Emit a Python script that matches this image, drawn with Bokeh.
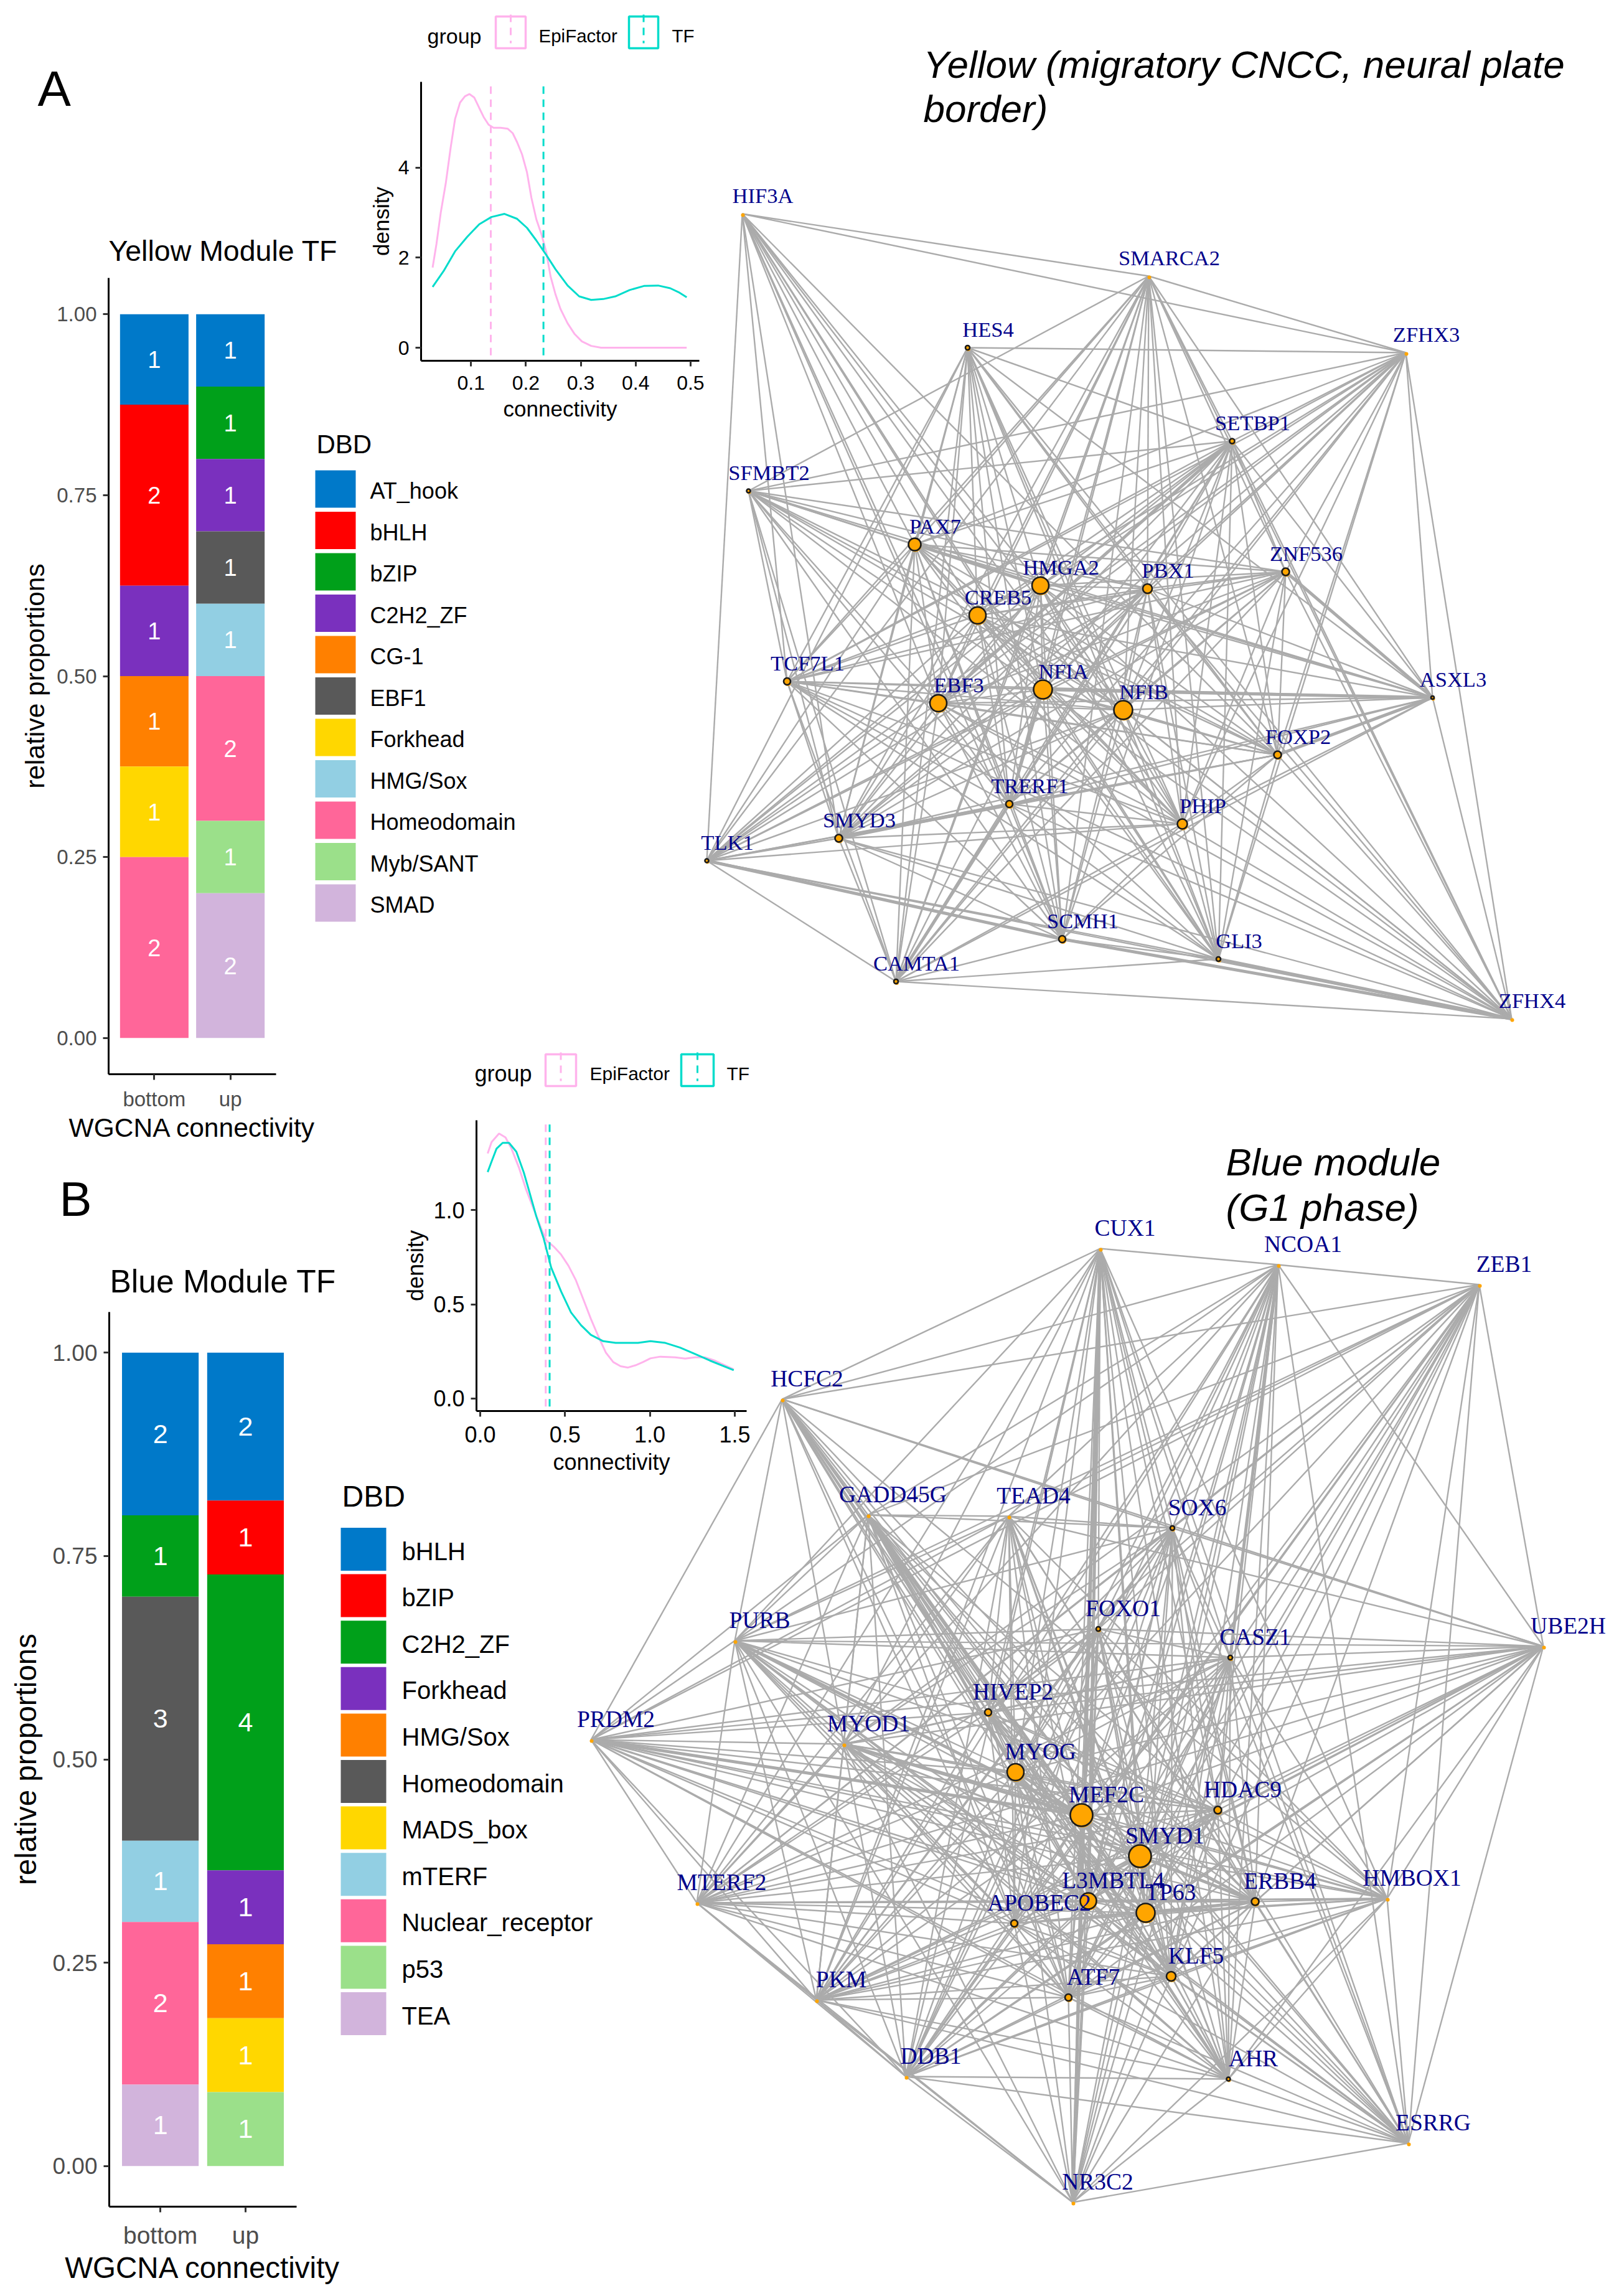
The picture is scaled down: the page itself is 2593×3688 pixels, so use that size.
from bokeh.embed import file_html
from bokeh.resources import INLINE
from bokeh.plotting import figure
from bokeh.models import (ColumnDataSource, FactorRange, FixedTicker, GridBox,
                          NumeralTickFormatter, Range1d)
from bokeh.core.properties import value

# ---------- data ----------
DBD_COLOURS_A = ["#0079C9", "#FF0000", "#00A01A", "#7A30BE", "#FF8000", "#595959",
                 "#FFD700", "#92CFE3", "#FF6699", "#9BE08A", "#D2B4DC"]
yellow_dbd = ["AT_hook", "bHLH", "bZIP", "C2H2_ZF", "CG-1", "EBF1", "Forkhead",
              "HMG/Sox", "Homeodomain", "Myb/SANT", "SMAD"]
yellow_bottom = [1, 2, 0, 1, 1, 0, 1, 0, 2, 0, 0]
yellow_up = [1, 0, 1, 1, 0, 1, 0, 1, 2, 1, 2]
blue_dbd = ["bHLH", "bZIP", "C2H2_ZF", "Forkhead", "HMG/Sox", "Homeodomain",
            "MADS_box", "mTERF", "Nuclear_receptor", "p53", "TEA"]
blue_bottom = [2, 0, 1, 0, 0, 3, 0, 1, 2, 0, 1]
blue_up = [2, 1, 4, 1, 1, 0, 1, 0, 0, 1, 0]
conn_levels = ["bottom", "up"]

EPI = "#FFB3EC"
TF = "#00DCCB"

ya_epi_x = [.030, .037, .045, .054, .063, .071, .080, .089, .097, .106, .115, .123, .132, .141, .154, .167, .176, .184,
            .193, .202, .210, .219, .228, .237, .245, .254, .263, .276, .289, .302, .319, .337, .371, .493]
ya_epi_y = [1.78, 2.30, 3.01, 3.65, 4.45, 5.08, 5.44, 5.58, 5.63, 5.55, 5.32, 5.12, 4.95, 4.88, 4.88, 4.86, 4.76, 4.56,
            4.29, 3.89, 3.33, 2.85, 2.53, 2.13, 1.58, 1.18, .86, .54, .30, .14, .04, 0, 0, 0]
ya_tf_x = [.030, .050, .071, .093, .115, .137, .161, .184, .202, .219, .237, .254, .276, .297, .319, .341, .363, .389,
           .415, .441, .463, .480, .493]
ya_tf_y = [1.35, 1.70, 2.14, 2.46, 2.74, 2.90, 2.97, 2.86, 2.66, 2.38, 2.06, 1.74, 1.38, 1.14, 1.06, 1.08, 1.14, 1.28,
           1.37, 1.38, 1.32, 1.22, 1.12]
ya_means = [.136, .232]

bl_epi_x = [.044, .067, .111, .149, .184, .228, .272, .316, .360, .389, .433, .477, .520, .564, .608, .652, .696, .740,
            .784, .827, .871, .915, .959, 1.003, 1.061, 1.149, 1.208, 1.266, 1.325, 1.383, 1.442, 1.494]
bl_epi_y = [1.302, 1.362, 1.408, 1.387, 1.328, 1.227, 1.106, 1.004, .901, .841, .807, .764, .705, .628, .526, .423,
            .330, .244, .193, .171, .164, .176, .193, .213, .222, .218, .212, .218, .218, .201, .176, .154]
bl_tf_x = [.044, .067, .096, .132, .170, .213, .257, .287, .330, .374, .418, .477, .535, .594, .652, .725, .798, .930,
           1.003, 1.091, 1.178, 1.266, 1.354, 1.494]
bl_tf_y = [1.203, 1.259, 1.327, 1.358, 1.358, 1.311, 1.200, 1.106, .969, .850, .696, .568, .457, .389, .338, .304,
           .295, .295, .304, .295, .270, .236, .201, .150]
bl_means = [.386, .409]

net_a_names = ["HIF3A", "SMARCA2", "HES4", "ZFHX3", "SETBP1", "SFMBT2", "PAX7", "ZNF536", "PBX1", "HMGA2", "CREB5",
               "TCF7L1", "NFIA", "EBF3", "NFIB", "ASXL3", "FOXP2", "TRERF1", "PHIP", "SMYD3", "TLK1", "SCMH1", "GLI3",
               "CAMTA1", "ZFHX4"]
net_a_x = [1192, 1845, 1554, 2258, 1979, 1202, 1469, 2065, 1843, 1671, 1570, 1264, 1675, 1507, 1804, 2301, 2052, 1621,
           1899, 1347, 1135, 1706, 1957, 1439, 2428]
net_a_y = [343, 443, 558, 566, 708, 788, 874, 918, 945, 940, 988, 1094, 1107, 1129, 1140, 1120, 1212, 1291, 1323, 1346,
           1382, 1508, 1540, 1576, 1636]
net_a_deg = [0, 0, 7, 0, 8, 6, 20, 12, 15, 27, 27, 11, 30, 27, 30, 5, 12, 11, 16, 12, 6, 11, 7, 7, 0]
net_a_edges = {
    "HIF3A": "SMARCA2 ZFHX3 TLK1 TCF7L1 SMYD3 PAX7 CREB5 EBF3 NFIA NFIB TRERF1 PHIP SCMH1 GLI3 HMGA2 FOXP2",
    "SMARCA2": "ZFHX3 SETBP1 ASXL3 PAX7 SFMBT2 HMGA2 CREB5 PBX1 NFIA NFIB EBF3 TRERF1 PHIP FOXP2 CAMTA1 SMYD3 TLK1 TCF7L1 GLI3 SCMH1 ZNF536 ZFHX4",
    "HES4": "ZFHX3 SETBP1 PAX7 CREB5 EBF3 NFIA NFIB TRERF1 PHIP SCMH1 GLI3 ASXL3 ZFHX4 SMYD3 CAMTA1 TLK1 FOXP2 PBX1 TCF7L1 HMGA2",
    "ZFHX3": "SFMBT2 ASXL3 ZFHX4 SETBP1 ZNF536 PBX1 HMGA2 CREB5 NFIA NFIB EBF3 PAX7 TCF7L1 TRERF1 FOXP2 SMYD3 TLK1 CAMTA1 GLI3 PHIP",
    "SETBP1": "SFMBT2 PAX7 ZNF536 PBX1 HMGA2 CREB5 EBF3 NFIA NFIB TCF7L1 TRERF1 SMYD3 TLK1 CAMTA1 PHIP GLI3 FOXP2 SCMH1 ASXL3 ZFHX4",
    "SFMBT2": "TCF7L1 PAX7 ZNF536 PBX1 HMGA2 CREB5 NFIA EBF3 NFIB FOXP2 ASXL3 SMYD3 TRERF1 PHIP CAMTA1 SCMH1",
    "PAX7": "HMGA2 PBX1 ZNF536 CREB5 NFIA NFIB EBF3 TRERF1 PHIP SMYD3 CAMTA1 SCMH1 GLI3 FOXP2 ASXL3 TLK1 ZFHX4 TCF7L1",
    "ZNF536": "PBX1 HMGA2 CREB5 NFIA NFIB EBF3 TCF7L1 TRERF1 SMYD3 TLK1 FOXP2 ASXL3 PHIP GLI3 CAMTA1 ZFHX4",
    "PBX1": "HMGA2 CREB5 NFIA NFIB EBF3 TCF7L1 TRERF1 SMYD3 TLK1 FOXP2 ASXL3 PHIP GLI3 SCMH1 CAMTA1 ZFHX4",
    "HMGA2": "CREB5 NFIA NFIB EBF3 TCF7L1 TRERF1 FOXP2 ASXL3 PHIP GLI3 SCMH1 SMYD3 CAMTA1 TLK1 ZFHX4",
    "CREB5": "NFIA NFIB EBF3 TCF7L1 TRERF1 FOXP2 ASXL3 PHIP GLI3 SCMH1 SMYD3 TLK1 ZFHX4",
    "TCF7L1": "NFIA NFIB EBF3 TRERF1 FOXP2 ASXL3 PHIP SCMH1 GLI3 CAMTA1 SMYD3 ZFHX4",
    "NFIA": "NFIB EBF3 TRERF1 FOXP2 ASXL3 PHIP SCMH1 GLI3 CAMTA1 SMYD3 TLK1 ZFHX4",
    "EBF3": "NFIB TRERF1 FOXP2 ASXL3 PHIP GLI3 SCMH1 CAMTA1 TLK1 SMYD3 ZFHX4",
    "NFIB": "TRERF1 FOXP2 ASXL3 PHIP GLI3 SCMH1 CAMTA1 SMYD3 TLK1 ZFHX4",
    "ASXL3": "FOXP2 ZFHX4 PHIP CAMTA1 TRERF1 SMYD3",
    "FOXP2": "TRERF1 PHIP SMYD3 TLK1 ZFHX4 GLI3 SCMH1",
    "TRERF1": "PHIP SMYD3 TLK1 SCMH1 CAMTA1 GLI3 ZFHX4",
    "PHIP": "SMYD3 TLK1 SCMH1 GLI3 ZFHX4 CAMTA1",
    "SMYD3": "TLK1 SCMH1 GLI3 CAMTA1 ZFHX4",
    "TLK1": "SCMH1 CAMTA1 GLI3 ZFHX4",
    "SCMH1": "CAMTA1 GLI3 ZFHX4",
    "GLI3": "CAMTA1 ZFHX4",
    "CAMTA1": "ZFHX4",
}
net_a_strong = ["ASXL3 FOXP2", "ASXL3 NFIA", "ZNF536 ASXL3", "TLK1 SCMH1", "SMYD3 TRERF1", "TRERF1 CAMTA1",
                "NFIA TRERF1", "PAX7 HMGA2", "SETBP1 EBF3", "GLI3 ZFHX4", "SCMH1 ZFHX4"]

net_b_names = ["CUX1", "NCOA1", "ZEB1", "HCFC2", "GADD45G", "TEAD4", "SOX6", "FOXO1", "CASZ1", "PURB", "UBE2H", "HIVEP2",
               "PRDM2", "MYOD1", "MYOG", "MEF2C", "HDAC9", "SMYD1", "L3MBTL4", "TP63", "ERBB4", "HMBOX1", "MTERF2",
               "APOBEC2", "KLF5", "ATF7", "PKM", "DDB1", "AHR", "ESRRG", "NR3C2"]
net_b_x = [1767, 2053, 2376, 1256, 1394, 1620, 1883, 1764, 1976, 1180, 2479, 1587, 949, 1355, 1631, 1737, 1956, 1831,
           1748, 1840, 2016, 2228, 1119, 1629, 1881, 1716, 1311, 1455, 1973, 2262, 1723]
net_b_y = [2005, 2031, 2063, 2247, 2433, 2435, 2454, 2616, 2662, 2635, 2644, 2750, 2794, 2801, 2846, 2915, 2907, 2981,
           3053, 3072, 3054, 3049, 3056, 3089, 3174, 3208, 3212, 3335, 3339, 3442, 3537]
net_b_deg = [0, 0, 0, 0, 0, 0, 7, 7, 7, 0, 0, 11, 0, 0, 27, 36, 12, 36, 26, 30, 12, 0, 0, 11, 15, 11, 0, 0, 6, 0, 0]
net_b_edges = {
    "CUX1": "NCOA1 HCFC2 MYOD1 PURB HIVEP2 MYOG MEF2C L3MBTL4 SMYD1 TP63 APOBEC2 ATF7 KLF5 DDB1 NR3C2 PKM AHR ESRRG HMBOX1 CASZ1 SOX6 FOXO1 HDAC9 ERBB4 MTERF2",
    "NCOA1": "ZEB1 HCFC2 PURB TEAD4 GADD45G SOX6 FOXO1 CASZ1 HDAC9 MEF2C SMYD1 TP63 L3MBTL4 ERBB4 ATF7 KLF5 AHR NR3C2 DDB1 PKM MTERF2 MYOG HIVEP2 ESRRG UBE2H",
    "ZEB1": "UBE2H HCFC2 GADD45G PURB TEAD4 MYOD1 SOX6 FOXO1 CASZ1 HIVEP2 MEF2C SMYD1 HDAC9 TP63 ERBB4 L3MBTL4 HMBOX1 APOBEC2 ATF7 DDB1 MTERF2 PKM ESRRG KLF5 PRDM2",
    "HCFC2": "PRDM2 GADD45G MYOD1 HIVEP2 MYOG MEF2C SOX6 UBE2H SMYD1 L3MBTL4 TP63 APOBEC2 KLF5 AHR ATF7 ESRRG PURB HMBOX1 ERBB4",
    "GADD45G": "TEAD4 SOX6 PURB MYOD1 HIVEP2 MYOG MEF2C SMYD1 TP63 L3MBTL4 APOBEC2 KLF5 ATF7 AHR ESRRG DDB1 ERBB4 HDAC9 PRDM2 MTERF2 PKM",
    "TEAD4": "SOX6 PURB MYOD1 MYOG HIVEP2 MEF2C SMYD1 L3MBTL4 TP63 APOBEC2 ATF7 KLF5 AHR HMBOX1 ESRRG ERBB4 MTERF2 PKM DDB1 UBE2H PRDM2",
    "SOX6": "FOXO1 CASZ1 PURB MYOD1 HIVEP2 MYOG MEF2C HDAC9 SMYD1 TP63 L3MBTL4 ATF7 ERBB4 APOBEC2 KLF5 DDB1 PKM MTERF2 UBE2H AHR ESRRG",
    "FOXO1": "CASZ1 PURB UBE2H PRDM2 HIVEP2 MEF2C SMYD1 MYOG TP63 L3MBTL4 ATF7 APOBEC2 KLF5 DDB1 PKM NR3C2 AHR ESRRG ERBB4 HMBOX1 MTERF2",
    "CASZ1": "PURB UBE2H HIVEP2 MYOD1 MYOG MEF2C HDAC9 SMYD1 TP63 L3MBTL4 ERBB4 KLF5 ATF7 DDB1 PKM MTERF2 PRDM2 ESRRG HMBOX1 AHR NR3C2",
    "PURB": "PRDM2 MTERF2 PKM HIVEP2 MYOD1 MYOG MEF2C SMYD1 L3MBTL4 TP63 APOBEC2 KLF5 AHR ESRRG ERBB4 HDAC9 ATF7 DDB1 NR3C2 UBE2H",
    "UBE2H": "ESRRG HMBOX1 HDAC9 SMYD1 MEF2C MYOG HIVEP2 MYOD1 ERBB4 TP63 L3MBTL4 APOBEC2 KLF5 ATF7 DDB1 PKM MTERF2 PRDM2 AHR",
    "HIVEP2": "PRDM2 MYOD1 MYOG MEF2C SMYD1 TP63 L3MBTL4 APOBEC2 ATF7 KLF5 AHR HDAC9 ERBB4 HMBOX1 MTERF2 PKM",
    "PRDM2": "MTERF2 MYOD1 MYOG MEF2C SMYD1 HDAC9 L3MBTL4 TP63 ERBB4 HMBOX1 APOBEC2 PKM ATF7 KLF5 DDB1 AHR",
    "MYOD1": "MYOG MEF2C SMYD1 HDAC9 TP63 L3MBTL4 ERBB4 KLF5 APOBEC2 ATF7 PKM DDB1 NR3C2 AHR ESRRG HMBOX1 MTERF2",
    "MYOG": "MEF2C SMYD1 HDAC9 TP63 L3MBTL4 ERBB4 HMBOX1 APOBEC2 ATF7 KLF5 AHR DDB1 PKM ESRRG NR3C2 MTERF2",
    "MEF2C": "HDAC9 SMYD1 TP63 L3MBTL4 ERBB4 HMBOX1 APOBEC2 ATF7 KLF5 AHR ESRRG NR3C2 DDB1 PKM MTERF2",
    "HDAC9": "SMYD1 TP63 L3MBTL4 ERBB4 HMBOX1 KLF5 ATF7 APOBEC2 PKM DDB1 AHR NR3C2 MTERF2",
    "SMYD1": "TP63 L3MBTL4 ERBB4 HMBOX1 APOBEC2 ATF7 KLF5 AHR ESRRG NR3C2 DDB1 PKM MTERF2",
    "L3MBTL4": "TP63 ERBB4 HMBOX1 APOBEC2 ATF7 KLF5 AHR ESRRG NR3C2 DDB1 PKM MTERF2",
    "TP63": "ERBB4 HMBOX1 APOBEC2 ATF7 KLF5 AHR ESRRG NR3C2 DDB1 PKM MTERF2",
    "ERBB4": "HMBOX1 APOBEC2 ATF7 KLF5 AHR ESRRG MTERF2 PKM DDB1 NR3C2",
    "HMBOX1": "AHR ESRRG KLF5 ATF7 APOBEC2 MTERF2 PKM NR3C2 DDB1",
    "MTERF2": "PKM APOBEC2 ATF7 KLF5 DDB1 AHR NR3C2",
    "APOBEC2": "KLF5 ATF7 PKM DDB1 AHR NR3C2 ESRRG",
    "KLF5": "ATF7 PKM DDB1 AHR NR3C2 ESRRG",
    "ATF7": "PKM DDB1 AHR NR3C2 ESRRG",
    "PKM": "DDB1 AHR NR3C2 ESRRG",
    "DDB1": "AHR NR3C2 ESRRG",
    "AHR": "NR3C2 ESRRG",
    "ESRRG": "NR3C2",
}
net_b_strong = ["GADD45G MEF2C", "GADD45G MYOG", "CUX1 L3MBTL4", "MYOD1 MEF2C", "CUX1 NR3C2", "PRDM2 MEF2C",
                "NCOA1 CASZ1", "PURB MEF2C", "TP63 ERBB4", "SMYD1 ERBB4"]

# ---------- layout helpers ----------
PAGE_W, PAGE_H = 2590, 3680
SANS = "Liberation Sans"
SERIF = "Liberation Serif"

canvas = figure(width=PAGE_W, height=PAGE_H, x_range=Range1d(0, PAGE_W), y_range=Range1d(PAGE_H, 0),
                output_backend="svg", toolbar_location=None, min_border=0, x_axis_location=None, y_axis_location=None,
                frame_align=False)
canvas.grid.visible = False
canvas.outline_line_color = None
canvas.background_fill_alpha = 0
canvas.border_fill_alpha = 0


def put_text(x, y, s, size, color="black", font=SANS, style="normal", align="left"):
    canvas.text(x=[x], y=[y], text=[s], text_font=value(font), text_font_size=f"{size}px", text_color=color,
                text_font_style=style, text_align=align, text_baseline="middle")


def positioned(fig, top, left):
    fig.margin = (top, 0, 0, left)
    return fig


def style_axes(p, tick_size, label_size, tick_color, lab_standoff_x, lab_standoff_y, tick_standoff_x, tick_standoff_y):
    p.grid.visible = False
    p.outline_line_color = None
    p.background_fill_alpha = 0
    p.border_fill_alpha = 0
    for ax, lab_st, tick_st in ((p.xaxis[0], lab_standoff_x, tick_standoff_x), (p.yaxis[0], lab_standoff_y, tick_standoff_y)):
        ax.axis_line_color = "black"
        ax.axis_line_width = 3
        ax.major_tick_line_color = "#333333"
        ax.major_tick_line_width = 3
        ax.major_tick_out = 9
        ax.major_tick_in = 0
        ax.minor_tick_line_color = None
        ax.major_label_text_font = SANS
        ax.major_label_text_font_size = f"{tick_size}px"
        ax.major_label_text_color = tick_color
        ax.major_label_standoff = tick_st
        ax.axis_label_text_font = SANS
        ax.axis_label_text_font_size = f"{label_size}px"
        ax.axis_label_text_font_style = "normal"
        ax.axis_label_text_color = "black"
        ax.axis_label_standoff = lab_st


def stacked_bar(dbd, colours, bottom, up, frame, fig_box, sizes, standoffs):
    fl, ft, fr, fb = frame
    bl, bt, br, bb = fig_box
    p = figure(width=br - bl, height=bb - bt, x_range=FactorRange(factors=conn_levels, range_padding=0.1),
               y_range=Range1d(-0.05, 1.05), output_backend="svg", toolbar_location=None,
               min_border_left=fl - bl, min_border_right=br - fr, min_border_top=ft - bt, min_border_bottom=bb - fb,
               x_axis_label="WGCNA connectivity", y_axis_label="relative proportions", frame_align=False)
    p.yaxis.ticker = FixedTicker(ticks=[0, .25, .5, .75, 1])
    p.yaxis.formatter = NumeralTickFormatter(format="0.00")
    style_axes(p, sizes["tick"], sizes["axis"], "#4D4D4D", *standoffs)
    p.xaxis.major_label_text_font_size = f"{sizes['xtick']}px"
    for level, counts in zip(conn_levels, (bottom, up)):
        total = sum(counts)
        top = 1.0
        for name, colour, n in zip(dbd, colours, counts):
            if n == 0:
                continue
            low = top - n / total
            p.vbar(x=[level], top=[top], bottom=[low], width=0.9, fill_color=colour, line_color=None)
            p.text(x=[level], y=[(top + low) / 2], text=[str(n)], text_color="white", text_align="center",
                   text_baseline="middle", text_font=value(SANS), text_font_size=f"{sizes['count']}px")
            top = low
    return p


def density(xr, yr, curves, means, mean_low, xticks, yticks, fmt_x, fmt_y, frame, fig_box, tick, label, standoffs):
    fl, ft, fr, fb = frame
    bl, bt, br, bb = fig_box
    p = figure(width=br - bl, height=bb - bt, x_range=Range1d(*xr), y_range=Range1d(*yr), output_backend="svg",
               toolbar_location=None, min_border_left=fl - bl, min_border_right=br - fr, min_border_top=ft - bt,
               min_border_bottom=bb - fb, x_axis_label="connectivity", y_axis_label="density", frame_align=False)
    p.xaxis.ticker = FixedTicker(ticks=xticks)
    p.yaxis.ticker = FixedTicker(ticks=yticks)
    p.xaxis.formatter = NumeralTickFormatter(format=fmt_x)
    p.yaxis.formatter = NumeralTickFormatter(format=fmt_y)
    style_axes(p, tick, label, "black", *standoffs)
    for (cx, cy), colour, m in zip(curves, (EPI, TF), means):
        p.line(cx, cy, line_color=colour, line_width=3)
        p.segment(x0=[m], x1=[m], y0=[mean_low], y1=[yr[1]], line_color=colour, line_width=3, line_dash="12 9")
    return p


def density_legend(group_x, text_y, keys, epi_x, tf_x, size_g, size_t):
    put_text(group_x, text_y, "group", size_g)
    for (x0, x1, y0, y1), colour in zip(keys, (EPI, TF)):
        canvas.quad(left=[x0], right=[x1], top=[y0], bottom=[y1], fill_color="white", line_color=colour, line_width=3.5)
        canvas.segment(x0=[(x0 + x1) / 2], x1=[(x0 + x1) / 2], y0=[y0 - 3], y1=[y1 - 8], line_color=colour,
                       line_width=3, line_dash="12 9")
    put_text(epi_x, text_y, "EpiFactor", size_t)
    put_text(tf_x, text_y, "TF", size_t)


def dbd_legend(dbd, colours, x0, x1, y_first, pitch, box_h, text_x, size, title_y, title_size):
    put_text(x0 + 2, title_y, "DBD", title_size)
    for i, (name, colour) in enumerate(zip(dbd, colours)):
        yc = y_first + i * pitch
        canvas.quad(left=[x0], right=[x1], top=[yc - box_h / 2], bottom=[yc + box_h / 2], fill_color=colour, line_color=None)
        put_text(text_x, yc + 3, name, size)


def network(names, xs, ys, degs, edges, strong, dx, dy, label_size):
    idx = {n: i for i, n in enumerate(names)}
    thick = {frozenset(s.split()) for s in strong}
    seg = {"x0": [], "x1": [], "y0": [], "y1": [], "w": []}
    for a, others in edges.items():
        for b in others.split():
            seg["x0"].append(xs[idx[a]])
            seg["y0"].append(ys[idx[a]])
            seg["x1"].append(xs[idx[b]])
            seg["y1"].append(ys[idx[b]])
            seg["w"].append(5 if frozenset((a, b)) in thick else 2.4)
    canvas.segment("x0", "y0", "x1", "y1", source=ColumnDataSource(seg), line_color="#ABABAB", line_width="w")
    # the orange marker sits a little off its outlined twin, as in the picture
    canvas.scatter(x=[x + 1 for x in xs], y=[y + 2 for y in ys], size=[max(d, 6) for d in degs], marker="circle",
                   fill_color="#FFA500", line_color=None)
    ring = [i for i, d in enumerate(degs) if d > 0]
    canvas.scatter(x=[xs[i] for i in ring], y=[ys[i] for i in ring], size=[degs[i] for i in ring], marker="circle",
                   fill_color="#FFA500", line_color="#1A1A1A", line_width=2.6)
    canvas.text(x=[x + dx for x in xs], y=[y + dy for y in ys], text=names, text_color="#00008B", text_align="center",
                text_baseline="middle", text_font=value(SERIF), text_font_size=f"{label_size}px")


# ---------- page-level layer ----------
put_text(60, 142, "A", 80)
put_text(95, 1925, "B", 78)
put_text(1483, 103, "Yellow (migratory CNCC, neural plate", 62, style="italic")
put_text(1483, 174, "border)", 62, style="italic")
put_text(1969, 1866, "Blue module", 62, style="italic")
put_text(1969, 1939, "(G1 phase)", 62, style="italic")
put_text(174, 402, "Yellow Module TF", 46.5)
put_text(176, 2057, "Blue Module TF", 51.5)

network(net_a_names, net_a_x, net_a_y, net_a_deg, net_a_edges, net_a_strong, 33, -30, 34.5)
network(net_b_names, net_b_x, net_b_y, net_b_deg, net_b_edges, net_b_strong, 40, -33, 37.5)

dbd_legend(yellow_dbd, DBD_COLOURS_A, 506, 571, 785, 66.5, 60, 594, 36, 713, 42)
dbd_legend(blue_dbd, DBD_COLOURS_A, 547, 620, 2488, 74.6, 69, 645, 40, 2403, 48)
density_legend(686, 57, [(796, 844, 26, 77), (1010, 1057, 26, 77)], 865, 1079, 34, 29.5)
density_legend(762, 1724, [(876, 925, 1693, 1744), (1094, 1146, 1693, 1744)], 947, 1167, 36, 30)

# ---------- charts ----------
bar_a = positioned(stacked_bar(yellow_dbd, DBD_COLOURS_A, yellow_bottom, yellow_up,
                               (174, 446, 443, 1725), (8, 430, 560, 1880),
                               {"tick": 33, "xtick": 33, "axis": 42.5, "count": 38},
                               (1, 8, 12, 10)), 430, 8)
bar_b = positioned(stacked_bar(blue_dbd, DBD_COLOURS_A, blue_bottom, blue_up,
                               (175, 2107, 476, 3544), (8, 2090, 560, 3686),
                               {"tick": 37, "xtick": 39, "axis": 47.5, "count": 43},
                               (1, 13, 15, 10)), 2090, 8)
dens_a = positioned(density((0.009, 0.516), (-0.29, 5.90), [(ya_epi_x, ya_epi_y), (ya_tf_x, ya_tf_y)], ya_means, -0.17,
                            [.1, .2, .3, .4, .5], [0, 2, 4], "0.0", "0", (676, 131, 1123, 579), (585, 120, 1140, 695),
                            32, 35, (8, 5, 15, 10)), 120, 585)
dens_b = positioned(density((-0.022, 1.57), (-0.067, 1.478), [(bl_epi_x, bl_epi_y), (bl_tf_x, bl_tf_y)], bl_means, -0.043,
                            [0, .5, 1, 1.5], [0, .5, 1], "0.0", "0.0", (765, 1799, 1199, 2266), (640, 1790, 1222, 2385),
                            36, 36, (8, 5, 15, 10)), 1790, 640)

page = GridBox(children=[(canvas, 0, 0), (bar_a, 0, 0), (bar_b, 0, 0), (dens_a, 0, 0), (dens_b, 0, 0)],
               width=PAGE_W, height=PAGE_H)

open("out.html", "w").write(file_html(page, INLINE))
